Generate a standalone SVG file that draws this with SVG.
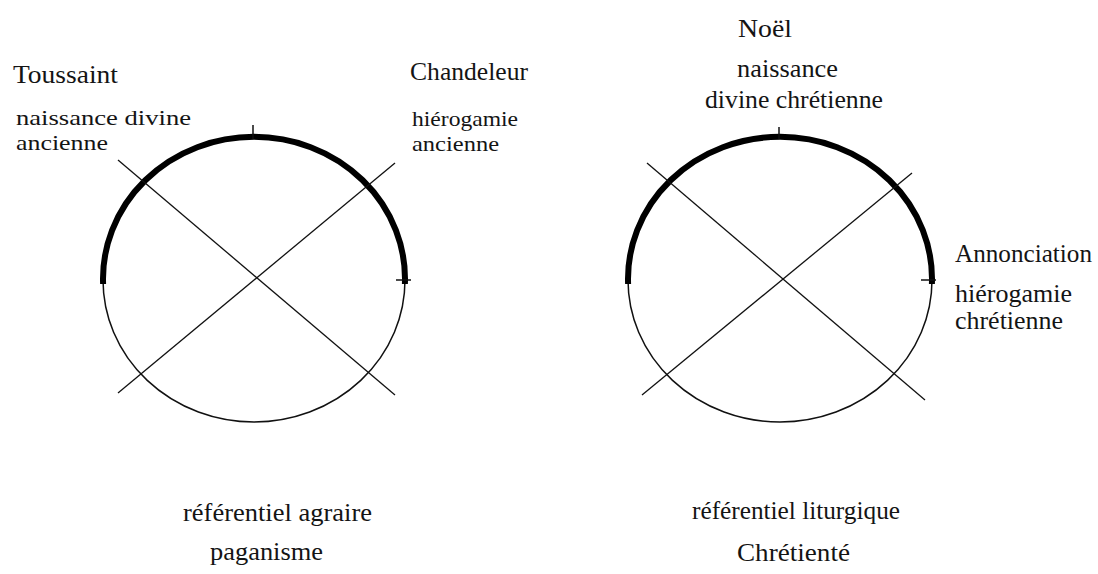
<svg xmlns="http://www.w3.org/2000/svg" width="1098" height="574" viewBox="0 0 1098 574">
  <style>
    .thin { fill: none; stroke: #111; stroke-width: 1.5; }
    .line { fill: none; stroke: #111; stroke-width: 1.3; }
    .thick { fill: none; stroke: #000; stroke-width: 6; stroke-linecap: butt; }
    .tick { fill: none; stroke: #111; stroke-width: 1.5; }
  </style>
  <rect width="1098" height="574" fill="#ffffff"/>

  <g id="cycle-agraire">
    <ellipse class="thin" cx="254" cy="280" rx="151" ry="142"/>
    <path class="thick" d="M 103.1 284 A 151 142 0 1 1 404.9 284"/>
    <line class="tick" x1="253" y1="125" x2="253" y2="139"/>
    <line class="tick" x1="396" y1="280" x2="411" y2="280"/>
  </g>

  <g id="cycle-liturgique">
    <ellipse class="thin" cx="780" cy="280" rx="152" ry="142"/>
    <path class="thick" d="M 628.1 284 A 152 142 0 1 1 931.9 284"/>
    <line class="tick" x1="779" y1="127" x2="779" y2="139"/>
    <line class="tick" x1="921" y1="280" x2="936" y2="280"/>
  </g>

  <g id="connectors">
    <line class="line" x1="118" y1="160" x2="395" y2="395"/>
    <line class="line" x1="395" y1="163" x2="118" y2="393"/>
    <line class="line" x1="647" y1="163" x2="925" y2="400"/>
    <line class="line" x1="912" y1="173" x2="642" y2="395"/>
  </g>

  <g font-family="Liberation Serif, Times New Roman, serif" font-size="26" fill="#141414">
  <g id="label-toussaint">
    <text x="13" y="83" textLength="105" lengthAdjust="spacingAndGlyphs">Toussaint</text>
    <text x="16" y="125" font-size="22" textLength="175" lengthAdjust="spacingAndGlyphs">naissance divine</text>
    <text x="16" y="150" font-size="22" textLength="92" lengthAdjust="spacingAndGlyphs">ancienne</text>
  </g>

  <g id="label-chandeleur">
    <text x="410" y="80" textLength="118" lengthAdjust="spacingAndGlyphs">Chandeleur</text>
    <text x="412" y="126" font-size="22" textLength="106" lengthAdjust="spacingAndGlyphs">hiérogamie</text>
    <text x="412" y="151" font-size="22" textLength="87" lengthAdjust="spacingAndGlyphs">ancienne</text>
  </g>

  <g id="label-noel">
    <text x="738" y="37" textLength="54" lengthAdjust="spacingAndGlyphs">Noël</text>
    <text x="737" y="77" textLength="101" lengthAdjust="spacingAndGlyphs">naissance</text>
    <text x="705" y="108" textLength="178" lengthAdjust="spacingAndGlyphs">divine chrétienne</text>
  </g>

  <g id="label-annonciation">
    <text x="955" y="262" textLength="137" lengthAdjust="spacingAndGlyphs">Annonciation</text>
    <text x="955" y="302" textLength="117" lengthAdjust="spacingAndGlyphs">hiérogamie</text>
    <text x="955" y="329" textLength="108" lengthAdjust="spacingAndGlyphs">chrétienne</text>
  </g>

  <g id="label-agraire">
    <text x="183" y="521" textLength="189" lengthAdjust="spacingAndGlyphs">référentiel agraire</text>
    <text x="210" y="560" textLength="113" lengthAdjust="spacingAndGlyphs">paganisme</text>
  </g>

  <g id="label-liturgique">
    <text x="692" y="519" textLength="208" lengthAdjust="spacingAndGlyphs">référentiel liturgique</text>
    <text x="737" y="561" textLength="113" lengthAdjust="spacingAndGlyphs">Chrétienté</text>
  </g>
  </g>
</svg>
